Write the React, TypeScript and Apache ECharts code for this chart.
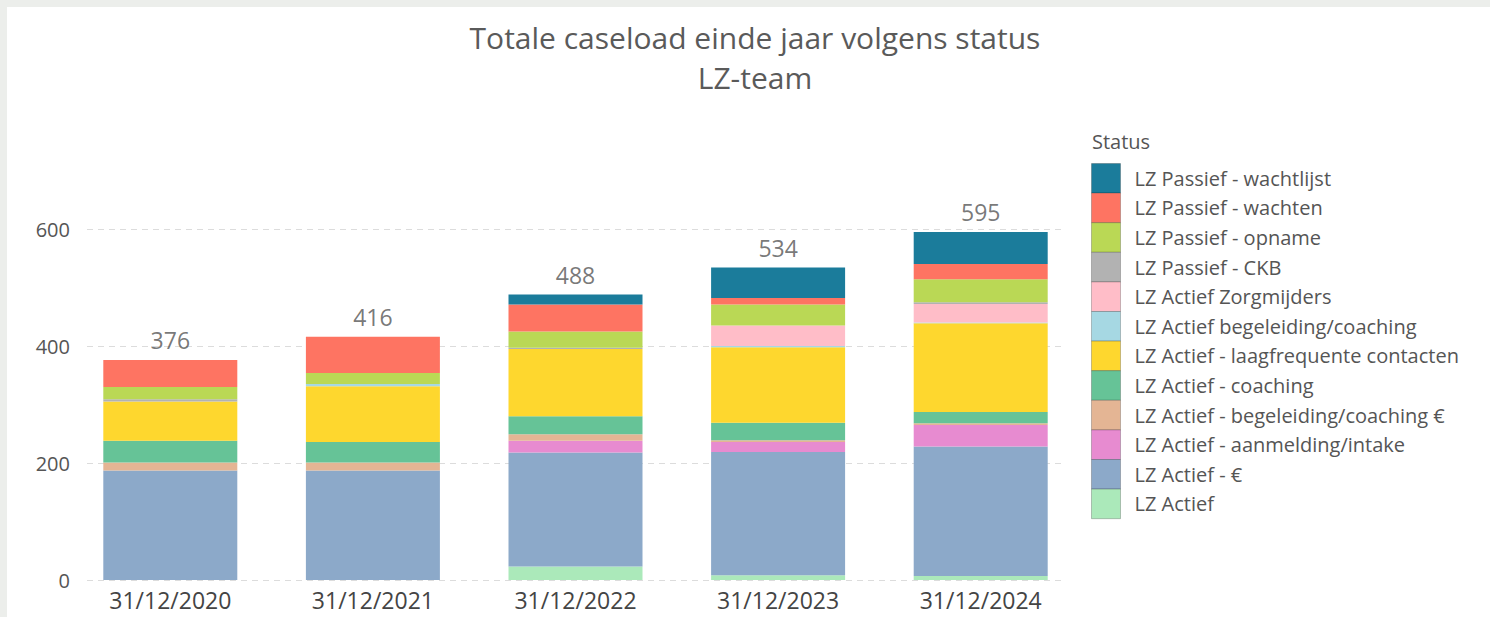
import React, { useEffect, useRef } from "react";
import * as echarts from "echarts";

const categories = ["31/12/2020", "31/12/2021", "31/12/2022", "31/12/2023", "31/12/2024"];

// bottom to top
const lzActief = [0, 0, 23, 8, 7];
const lzActiefEuro = [187, 187, 195, 211, 221];
const aanmeldingIntake = [0, 0, 20, 17, 37];
const begeleidingCoachingEuro = [14, 14, 11, 3, 3];
const coaching = [37, 35, 31, 30, 19];
const laagfrequente = [67, 95, 115, 129, 152];
const begeleidingCoaching = [0, 4, 0, 2, 1];
const zorgmijders = [0, 0, 0, 35, 32];
const passiefCkb = [4, 0, 2, 0, 3];
const passiefOpname = [21, 19, 28, 36, 39];
const passiefWachten = [46, 62, 46, 11, 26];
const passiefWachtlijst = [0, 0, 17, 52, 55];
const totals = [376, 416, 488, 534, 595];

const seriesDefs: { name: string; data: number[]; color: string }[] = [
  { name: "LZ Actief", data: lzActief, color: "#abe9ba" },
  { name: "LZ Actief - €", data: lzActiefEuro, color: "#8ca9c9" },
  { name: "LZ Actief - aanmelding/intake", data: aanmeldingIntake, color: "#e78bd0" },
  { name: "LZ Actief - begeleiding/coaching €", data: begeleidingCoachingEuro, color: "#e4b594" },
  { name: "LZ Actief - coaching", data: coaching, color: "#66c397" },
  { name: "LZ Actief - laagfrequente contacten", data: laagfrequente, color: "#fed72e" },
  { name: "LZ Actief begeleiding/coaching", data: begeleidingCoaching, color: "#a6d8e3" },
  { name: "LZ Actief Zorgmijders", data: zorgmijders, color: "#ffbdc8" },
  { name: "LZ Passief - CKB", data: passiefCkb, color: "#b2b2b2" },
  { name: "LZ Passief - opname", data: passiefOpname, color: "#bad855" },
  { name: "LZ Passief - wachten", data: passiefWachten, color: "#fe7462" },
  { name: "LZ Passief - wachtlijst", data: passiefWachtlijst, color: "#1b7c9b" },
];

const FONT = "'Open Sans', 'Noto Sans', sans-serif";

export default function App() {
  const ref = useRef<HTMLDivElement>(null);

  useEffect(() => {
    document.body.style.margin = "0";
    document.body.style.background = "#eceeeb";
    if (!ref.current) return;
    const chart = echarts.init(ref.current, undefined, { renderer: "svg" });
    const option: any = {
      animation: false,
      backgroundColor: "#ffffff",
      textStyle: { fontFamily: FONT },
      graphic: [
        {
          type: "text",
          x: 748,
          y: 10,
          style: {
            text: "Totale caseload einde jaar volgens status\nLZ-team",
            textAlign: "center",
            textVerticalAlign: "top",
            fontSize: 30,
            lineHeight: 40,
            fill: "#5a5a5a",
            fontFamily: FONT,
          },
        },
        {
          type: "text",
          x: 1085,
          y: 134,
          style: {
            text: "Status",
            textVerticalAlign: "middle",
            fontSize: 20,
            fill: "#555555",
            fontFamily: FONT,
          },
        },
      ],
      legend: {
        orient: "vertical",
        left: 1084,
        top: 156,
        padding: 0,
        itemWidth: 29,
        itemHeight: 29.6,
        itemGap: -1,
        icon: "rect",
        data: seriesDefs.map((s) => s.name).reverse(),
        itemStyle: { borderColor: "rgba(0,0,0,0.22)", borderWidth: 1 },
        textStyle: { fontSize: 20, color: "#555555", fontFamily: FONT, padding: [0, 0, 0, 9] },
      },
      grid: [
        { left: 62, right: 408, top: 222, bottom: 37 },
        { left: 80, right: 428, top: 222, bottom: 37 },
      ],
      xAxis: [
        {
          type: "category",
          gridIndex: 0,
          data: categories,
          axisLine: { show: false },
          axisTick: { show: false },
          axisLabel: { fontSize: 23, color: "#444444", margin: 8, fontFamily: FONT },
        },
        {
          type: "category",
          gridIndex: 1,
          data: categories,
          show: false,
        },
      ],
      yAxis: [
        {
          type: "value",
          gridIndex: 0,
          min: 0,
          max: 600,
          interval: 200,
          show: false,
          splitLine: { show: false },
        },
        {
          type: "value",
          gridIndex: 1,
          min: 0,
          max: 600,
          interval: 200,
          axisLine: { show: false },
          axisTick: { show: false },
          axisLabel: { fontSize: 20, color: "#555555", margin: 17, fontFamily: FONT },
          splitLine: { lineStyle: { color: "#dcdcdc", type: [6, 5], width: 1 } },
        },
      ],
      series: [
        ...seriesDefs.map((s) => ({
          name: s.name,
          type: "bar",
          stack: "total",
          xAxisIndex: 0,
          yAxisIndex: 0,
          barWidth: 134,
          itemStyle: { color: s.color },
          data: s.data,
        })),
        {
          name: "totaal",
          type: "scatter",
          xAxisIndex: 0,
          yAxisIndex: 0,
          symbolSize: 1,
          itemStyle: { color: "rgba(0,0,0,0)" },
          data: totals,
          label: {
            show: true,
            position: "top",
            distance: 8,
            fontSize: 23,
            color: "#555555",
            fontFamily: FONT,
          },
          z: 10,
        },
      ],
    };
    chart.setOption(option);
    return () => chart.dispose();
  }, []);

  return (
    <div style={{ position: "relative", width: 1490, height: 617, background: "#eceeeb", overflow: "hidden" }}>
      <div ref={ref} style={{ position: "absolute", left: 7, top: 7, width: 1483, height: 610 }} />
    </div>
  );
}
